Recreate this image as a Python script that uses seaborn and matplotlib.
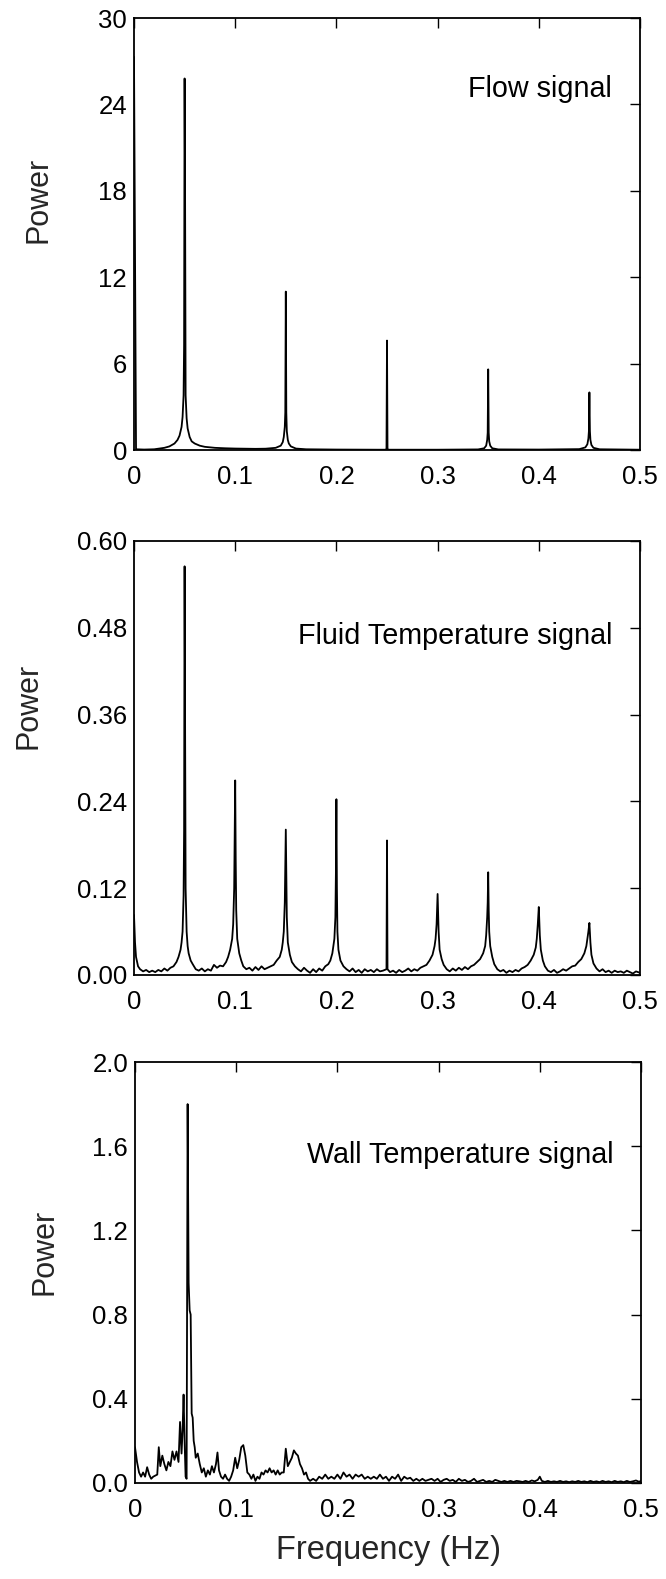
import numpy as np
import pandas as pd
import matplotlib
matplotlib.use("Agg")
import matplotlib.pyplot as plt
import seaborn as sns

# ---------------- data ----------------
flow_freq = [0.000, 0.002, 0.010, 0.020, 0.030, 0.035, 0.040, 0.043, 0.045, 0.047, 0.048, 0.049,
             0.0495, 0.050, 0.0505, 0.051, 0.052, 0.053, 0.055, 0.057, 0.060, 0.065, 0.070, 0.080,
             0.090, 0.100, 0.110, 0.120, 0.130, 0.140, 0.145, 0.147, 0.148, 0.149, 0.1495, 0.150,
             0.1505, 0.151, 0.152, 0.153, 0.155, 0.160, 0.170, 0.200, 0.240, 0.249, 0.2495, 0.250,
             0.2505, 0.251, 0.260, 0.300, 0.340, 0.346, 0.348, 0.349, 0.3495, 0.350, 0.3505, 0.351,
             0.352, 0.354, 0.360, 0.400, 0.440, 0.446, 0.448, 0.449, 0.4495, 0.450, 0.4505, 0.451,
             0.452, 0.454, 0.460, 0.500]
flow_power = [27.3, 0.05, 0.03, 0.05, 0.15, 0.25, 0.45, 0.7, 1.0, 1.6, 2.3, 3.8,
              7.3, 25.8, 17.2, 3.8, 2.2, 1.5, 0.9, 0.6, 0.45, 0.3, 0.22, 0.15,
              0.12, 0.10, 0.09, 0.08, 0.09, 0.15, 0.3, 0.55, 0.9, 1.6, 2.6, 11.0,
              2.6, 1.3, 0.7, 0.45, 0.25, 0.10, 0.05, 0.03, 0.02, 0.02, 0.05, 7.6,
              0.05, 0.02, 0.02, 0.02, 0.04, 0.12, 0.3, 0.7, 1.2, 5.6, 1.2, 0.6,
              0.3, 0.12, 0.04, 0.03, 0.06, 0.18, 0.4, 0.8, 1.3, 4.0, 1.3, 0.7,
              0.35, 0.15, 0.05, 0.02]

fluid_freq = [0.000, 0.001, 0.002, 0.004, 0.006, 0.009, 0.012, 0.015, 0.018, 0.021, 0.024, 0.027,
              0.030, 0.033, 0.036, 0.039, 0.042, 0.044, 0.046, 0.047, 0.048, 0.049, 0.0495, 0.050,
              0.0505, 0.051, 0.052, 0.053, 0.054, 0.056, 0.058, 0.061, 0.064, 0.067, 0.070, 0.073,
              0.076, 0.079, 0.082, 0.085, 0.088, 0.091, 0.093, 0.095, 0.097, 0.098, 0.099, 0.0995,
              0.100, 0.1005, 0.101, 0.102, 0.104, 0.106, 0.108, 0.111, 0.114, 0.117, 0.120, 0.123,
              0.126, 0.129, 0.132, 0.135, 0.138, 0.141, 0.144, 0.146, 0.147, 0.148, 0.149, 0.1495,
              0.150, 0.1505, 0.151, 0.152, 0.154, 0.156, 0.159, 0.162, 0.165, 0.168, 0.171, 0.174,
              0.177, 0.180, 0.183, 0.186, 0.189, 0.192, 0.194, 0.196, 0.198, 0.199, 0.1995, 0.200,
              0.2005, 0.201, 0.202, 0.204, 0.207, 0.210, 0.213, 0.216, 0.219, 0.222, 0.225, 0.228,
              0.231, 0.234, 0.237, 0.240, 0.243, 0.246, 0.2495, 0.250, 0.2505, 0.253, 0.256, 0.259,
              0.262, 0.265, 0.268, 0.271, 0.274, 0.277, 0.280, 0.283, 0.286, 0.289, 0.292, 0.295,
              0.297, 0.298, 0.299, 0.300, 0.301, 0.302, 0.304, 0.306, 0.309, 0.312, 0.315, 0.318,
              0.321, 0.324, 0.327, 0.330, 0.333, 0.336, 0.339, 0.342, 0.345, 0.347, 0.348, 0.349,
              0.3495, 0.350, 0.3505, 0.351, 0.352, 0.354, 0.356, 0.359, 0.362, 0.365, 0.368, 0.371,
              0.374, 0.377, 0.380, 0.383, 0.386, 0.389, 0.392, 0.395, 0.397, 0.398, 0.399, 0.400,
              0.401, 0.402, 0.404, 0.406, 0.409, 0.412, 0.415, 0.418, 0.421, 0.424, 0.427, 0.430,
              0.433, 0.436, 0.439, 0.442, 0.445, 0.447, 0.448, 0.449, 0.450, 0.451, 0.452, 0.454,
              0.457, 0.460, 0.463, 0.466, 0.469, 0.472, 0.475, 0.478, 0.481, 0.484, 0.487, 0.490,
              0.493, 0.496, 0.500]
fluid_power = [0.083, 0.045, 0.025, 0.012, 0.008, 0.005, 0.007, 0.004, 0.006, 0.004, 0.007, 0.005,
               0.009, 0.006, 0.010, 0.012, 0.018, 0.025, 0.035, 0.045, 0.060, 0.110, 0.200, 0.565,
               0.330, 0.120, 0.060, 0.040, 0.030, 0.020, 0.015, 0.008, 0.006, 0.009, 0.005, 0.008,
               0.006, 0.014, 0.010, 0.013, 0.012, 0.018, 0.025, 0.035, 0.050, 0.070, 0.120, 0.200,
               0.269, 0.160, 0.090, 0.050, 0.030, 0.020, 0.012, 0.008, 0.010, 0.006, 0.011, 0.007,
               0.012, 0.008, 0.010, 0.012, 0.014, 0.020, 0.025, 0.035, 0.045, 0.060, 0.100, 0.150,
               0.201, 0.140, 0.080, 0.045, 0.028, 0.018, 0.012, 0.008, 0.005, 0.010, 0.006, 0.003,
               0.008, 0.004, 0.009, 0.006, 0.012, 0.015, 0.020, 0.030, 0.050, 0.080, 0.140, 0.243,
               0.120, 0.060, 0.035, 0.020, 0.012, 0.008, 0.005, 0.009, 0.004, 0.007, 0.003, 0.008,
               0.005, 0.007, 0.004, 0.008, 0.005, 0.006, 0.008, 0.186, 0.008, 0.004, 0.006, 0.003,
               0.007, 0.004, 0.006, 0.009, 0.005, 0.008, 0.006, 0.010, 0.012, 0.014, 0.020, 0.028,
               0.040, 0.050, 0.070, 0.112, 0.060, 0.035, 0.022, 0.014, 0.008, 0.005, 0.009, 0.006,
               0.010, 0.007, 0.011, 0.008, 0.012, 0.014, 0.018, 0.022, 0.030, 0.040, 0.055, 0.080,
               0.100, 0.142, 0.090, 0.060, 0.040, 0.025, 0.015, 0.008, 0.005, 0.007, 0.003, 0.006,
               0.004, 0.007, 0.005, 0.009, 0.011, 0.014, 0.020, 0.028, 0.038, 0.050, 0.070, 0.094,
               0.055, 0.035, 0.020, 0.012, 0.006, 0.004, 0.007, 0.003, 0.005, 0.008, 0.006, 0.009,
               0.012, 0.013, 0.018, 0.022, 0.030, 0.040, 0.050, 0.060, 0.072, 0.045, 0.028, 0.016,
               0.009, 0.005, 0.008, 0.004, 0.006, 0.003, 0.006, 0.004, 0.005, 0.003, 0.006, 0.004,
               0.002, 0.005, 0.003]

wall_freq = [0.000, 0.002, 0.004, 0.006, 0.008, 0.010, 0.012, 0.014, 0.016, 0.018, 0.020, 0.022,
             0.0235, 0.025, 0.027, 0.029, 0.031, 0.033, 0.035, 0.037, 0.039, 0.041, 0.043, 0.0445,
             0.046, 0.047, 0.048, 0.049, 0.050, 0.051, 0.052, 0.053, 0.054, 0.055, 0.056, 0.057,
             0.058, 0.059, 0.060, 0.062, 0.064, 0.066, 0.068, 0.070, 0.072, 0.074, 0.076, 0.078,
             0.080, 0.0815, 0.083, 0.085, 0.087, 0.089, 0.091, 0.093, 0.095, 0.097, 0.099, 0.101,
             0.103, 0.105, 0.107, 0.109, 0.111, 0.113, 0.115, 0.117, 0.119, 0.121, 0.123, 0.125,
             0.127, 0.129, 0.131, 0.133, 0.135, 0.137, 0.139, 0.141, 0.143, 0.145, 0.147, 0.149,
             0.151, 0.153, 0.155, 0.157, 0.159, 0.161, 0.163, 0.165, 0.167, 0.169, 0.171, 0.173,
             0.176, 0.179, 0.182, 0.185, 0.188, 0.191, 0.194, 0.197, 0.200, 0.203, 0.206, 0.209,
             0.212, 0.215, 0.218, 0.221, 0.224, 0.227, 0.230, 0.233, 0.236, 0.239, 0.242, 0.245,
             0.248, 0.251, 0.254, 0.257, 0.260, 0.263, 0.266, 0.269, 0.272, 0.275, 0.278, 0.281,
             0.284, 0.287, 0.290, 0.293, 0.296, 0.299, 0.302, 0.305, 0.308, 0.311, 0.314, 0.317,
             0.320, 0.323, 0.326, 0.329, 0.332, 0.335, 0.338, 0.341, 0.344, 0.347, 0.350, 0.353,
             0.356, 0.359, 0.362, 0.365, 0.368, 0.371, 0.374, 0.377, 0.380, 0.383, 0.386, 0.389,
             0.392, 0.395, 0.398, 0.400, 0.402, 0.405, 0.408, 0.411, 0.414, 0.417, 0.420, 0.423,
             0.426, 0.429, 0.432, 0.435, 0.438, 0.441, 0.444, 0.447, 0.450, 0.453, 0.456, 0.459,
             0.462, 0.465, 0.468, 0.471, 0.474, 0.477, 0.480, 0.483, 0.486, 0.489, 0.492, 0.495,
             0.498, 0.500]
wall_power = [0.17, 0.10, 0.05, 0.03, 0.05, 0.03, 0.075, 0.04, 0.02, 0.03, 0.035, 0.04,
              0.17, 0.08, 0.13, 0.09, 0.06, 0.10, 0.08, 0.15, 0.11, 0.15, 0.10, 0.29,
              0.14, 0.25, 0.42, 0.20, 0.03, 0.02, 1.80, 0.95, 0.82, 0.80, 0.33, 0.31,
              0.20, 0.17, 0.12, 0.14, 0.09, 0.05, 0.07, 0.03, 0.06, 0.04, 0.08, 0.05,
              0.09, 0.145, 0.06, 0.03, 0.02, 0.04, 0.02, 0.01, 0.03, 0.06, 0.12, 0.07,
              0.11, 0.17, 0.18, 0.13, 0.05, 0.04, 0.02, 0.04, 0.01, 0.03, 0.02, 0.05,
              0.04, 0.06, 0.05, 0.07, 0.05, 0.06, 0.04, 0.06, 0.04, 0.05, 0.05, 0.163,
              0.08, 0.10, 0.12, 0.155, 0.14, 0.13, 0.09, 0.07, 0.04, 0.05, 0.02, 0.01,
              0.02, 0.01, 0.03, 0.02, 0.04, 0.02, 0.03, 0.02, 0.04, 0.02, 0.05, 0.03,
              0.04, 0.02, 0.04, 0.03, 0.04, 0.02, 0.03, 0.02, 0.03, 0.02, 0.04, 0.02,
              0.03, 0.01, 0.03, 0.02, 0.04, 0.01, 0.03, 0.02, 0.025, 0.01, 0.02, 0.01,
              0.02, 0.01, 0.015, 0.02, 0.01, 0.02, 0.005, 0.015, 0.02, 0.01, 0.015, 0.005,
              0.02, 0.01, 0.015, 0.005, 0.01, 0.02, 0.005, 0.01, 0.015, 0.005, 0.01, 0.005,
              0.015, 0.01, 0.005, 0.01, 0.005, 0.01, 0.005, 0.01, 0.008, 0.005, 0.01, 0.005,
              0.012, 0.008, 0.015, 0.03, 0.01, 0.005, 0.01, 0.005, 0.008, 0.005, 0.01, 0.005,
              0.008, 0.004, 0.008, 0.005, 0.01, 0.005, 0.008, 0.004, 0.01, 0.005, 0.008, 0.004,
              0.01, 0.005, 0.008, 0.004, 0.01, 0.005, 0.008, 0.004, 0.01, 0.005, 0.008, 0.012,
              0.006, 0.01]

x_ticks = [0.0, 0.1, 0.2, 0.3, 0.4, 0.5]
x_tick_labels = ["0", "0.1", "0.2", "0.3", "0.4", "0.5"]

flow_yticks = [0, 6, 12, 18, 24, 30]
flow_ytick_labels = ["0", "6", "12", "18", "24", "30"]
fluid_yticks = [0.0, 0.12, 0.24, 0.36, 0.48, 0.60]
fluid_ytick_labels = ["0.00", "0.12", "0.24", "0.36", "0.48", "0.60"]
wall_yticks = [0.0, 0.4, 0.8, 1.2, 1.6, 2.0]
wall_ytick_labels = ["0.0", "0.4", "0.8", "1.2", "1.6", "2.0"]

titles = ["Flow signal", "Fluid Temperature signal", "Wall Temperature signal"]
y_label = "Power"
x_label = "Frequency (Hz)"

# ---------------- style ----------------
sns.set_style("white")
plt.rcParams["font.family"] = ["Liberation Sans", "DejaVu Sans"]

W, H = 666, 1579
fig = plt.figure(figsize=(W / 100, H / 100), dpi=100)

# panel boxes in pixels: (left, top, right, bottom)
boxes = [(134, 18, 640, 450), (134, 541, 640, 975), (135, 1062, 641, 1483)]
panels = [
    (flow_freq, flow_power, flow_yticks, flow_ytick_labels, 30, 0.835, (-0.16, 0.58)),
    (fluid_freq, fluid_power, fluid_yticks, fluid_ytick_labels, 0.60, 0.78, (-0.178, 0.62)),
    (wall_freq, wall_power, wall_yticks, wall_ytick_labels, 2.0, 0.78, (-0.15, 0.55)),
]

axes = []
for i, ((l, t, r, b), (fx, py, yt, ytl, ymax, ty, lab_xy)) in enumerate(zip(boxes, panels)):
    ax = fig.add_axes([l / W, 1 - b / H, (r - l) / W, (b - t) / H])
    df = pd.DataFrame({"freq": fx, "power": py})
    sns.lineplot(data=df, x="freq", y="power", ax=ax, color="black",
                 linewidth=1.3, estimator=None, sort=False)
    ax.set_xlim(0, 0.5)
    ax.set_ylim(0, ymax)
    ax.set_xticks(x_ticks)
    ax.set_xticklabels(x_tick_labels)
    ax.set_yticks(yt)
    ax.set_yticklabels(ytl)
    ax.tick_params(direction="in", length=7, width=1.0, top=True, right=True,
                   labelsize=18.5, colors="black")
    ax.tick_params(axis="x", pad=11)
    ax.tick_params(axis="y", pad=5)
    for s in ax.spines.values():
        s.set_visible(True)
        s.set_color("black")
        s.set_linewidth(1.3)
    ax.set_ylabel(y_label, fontsize=22)
    ax.yaxis.set_label_coords(*lab_xy)
    ax.set_xlabel("")
    ax.text(0.945, ty, titles[i], transform=ax.transAxes, ha="right", va="center",
            fontsize=20.7, color="black")
    axes.append(ax)

axes[2].set_xlabel(x_label, fontsize=23.5, labelpad=9)

fig.savefig("out.png", dpi=100)
